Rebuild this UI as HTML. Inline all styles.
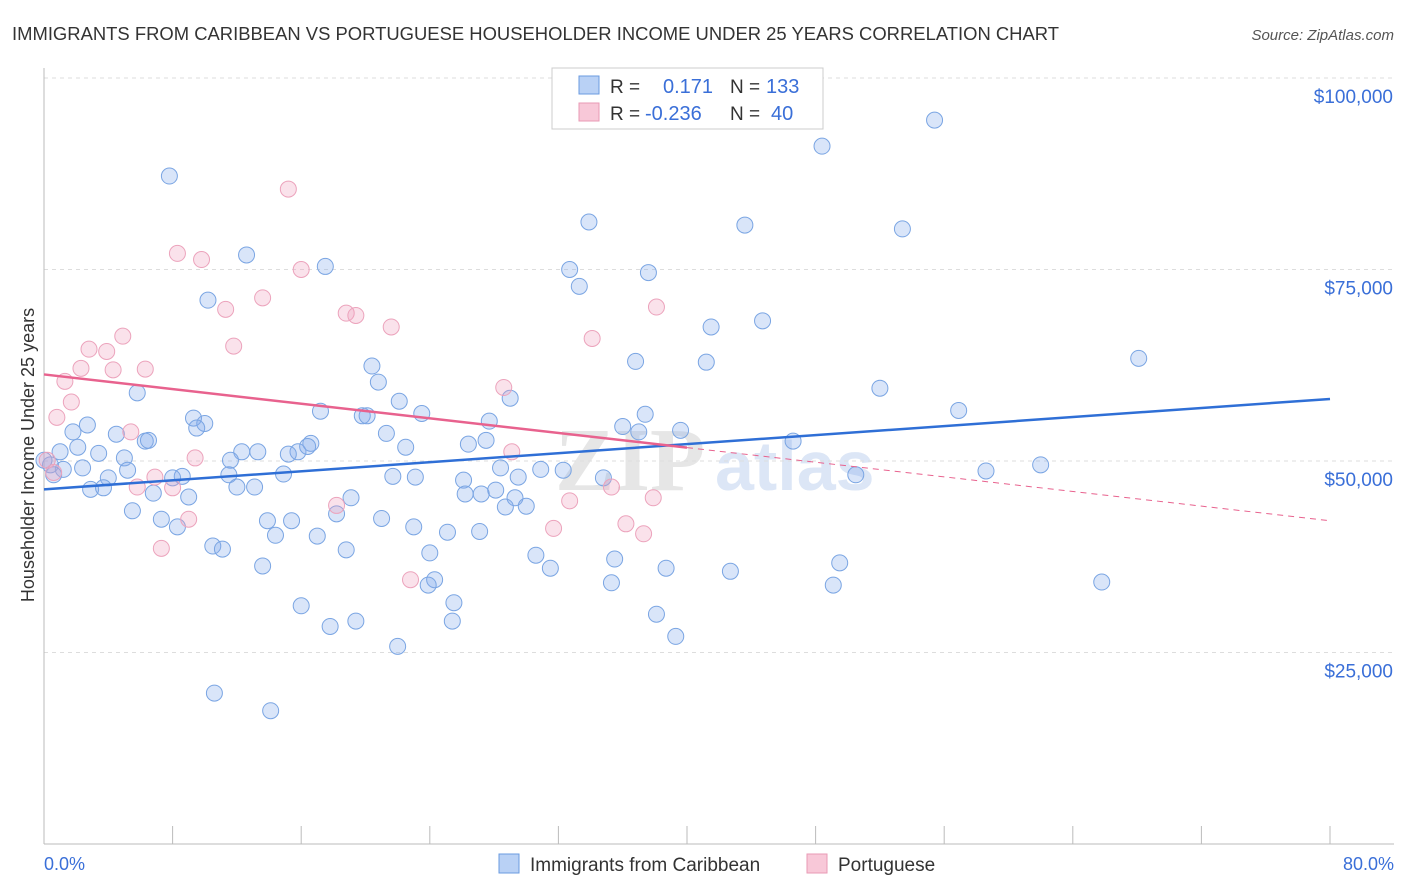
<!DOCTYPE html>
<html><head><meta charset="utf-8">
<style>
body{margin:0;background:#fff;font-family:"Liberation Sans",sans-serif;}
#wrap{position:relative;width:1406px;height:892px;overflow:hidden;}
</style></head>
<body>
<div id="wrap">
<svg id="svg" width="1406" height="892" xmlns="http://www.w3.org/2000/svg">
<text x="12" y="40" font-size="18" fill="#333" textLength="1047" lengthAdjust="spacingAndGlyphs">IMMIGRANTS FROM CARIBBEAN VS PORTUGUESE HOUSEHOLDER INCOME UNDER 25 YEARS CORRELATION CHART</text>
<text x="1394" y="40" font-size="15" fill="#555" text-anchor="end" font-style="italic">Source: ZipAtlas.com</text>
<text x="34" y="455" font-size="18" fill="#333" text-anchor="middle" transform="rotate(-90 34 455)">Householder Income Under 25 years</text>
<text x="44" y="870" font-size="18" fill="#3a6fd8">0.0%</text>
<text x="1394" y="870" font-size="18" fill="#3a6fd8" text-anchor="end">80.0%</text>
<g><text x="555" y="490" font-size="90" fill="#e6e6e6" font-family="Liberation Serif" font-weight="bold">ZIP</text><text x="715" y="490" font-size="70" fill="#dce6f6" font-weight="bold">atlas</text></g>
<g id="grid"></g><g id="pts"></g><g id="trend"></g>
<g>
<rect x="552" y="68" width="271" height="61" fill="#fff" stroke="#ccc"/>
<rect x="579" y="76" width="20" height="18" fill="#b9d1f5" stroke="#6a9be0"/>
<rect x="579" y="103" width="20" height="18" fill="#f8c8d8" stroke="#e99ab5"/>
<text x="610" y="93" font-size="19" fill="#333">R =</text><text x="663" y="93" font-size="20" fill="#3a6fd8">0.171</text>
<text x="730" y="93" font-size="19" fill="#333">N =</text><text x="766" y="93" font-size="20" fill="#3a6fd8">133</text>
<text x="610" y="120" font-size="19" fill="#333">R =</text><text x="645" y="120" font-size="20" fill="#3a6fd8">-0.236</text>
<text x="730" y="120" font-size="19" fill="#333">N =</text><text x="771" y="120" font-size="20" fill="#3a6fd8">40</text>
</g>
<g>
<rect x="499" y="854" width="20" height="19" fill="#b9d1f5" stroke="#6a9be0"/>
<text x="530" y="871" font-size="19" fill="#333">Immigrants from Caribbean</text>
<rect x="807" y="854" width="20" height="19" fill="#f8c8d8" stroke="#e99ab5"/>
<text x="838" y="871" font-size="19" fill="#333">Portuguese</text>
</g>
</svg>
</div>
<script>
const yTicks=[25000,50000,75000,100000];
const yTickLabels=["$25,000","$50,000","$75,000","$100,000"];
const xTicks=[0,8,16,24,32,40,48,56,64,72,80];
const blueX=[7.8,55.4,48.4,33.9,43.6,53.4,12.6,17.5,32.7,37.6,33.3,10.2,44.7,41.5,68.1,36.8,41.2,20.4,20.8,52.0,5.8,22.1,29.0,56.9,17.2,23.5,9.3,19.8,20.1,27.7,10.0,2.7,9.5,37.4,36.0,39.6,37.0,1.8,4.5,21.3,6.3,6.5,46.6,27.5,26.4,1.0,2.1,3.4,22.5,12.3,13.3,15.8,16.6,16.4,15.2,11.6,5.0,0.4,1.2,2.4,5.2,0.6,4.0,8.6,8.0,11.5,14.9,21.7,23.1,28.4,30.9,32.3,29.5,34.8,50.5,58.6,62.0,26.1,2.9,3.7,6.8,9.0,12.0,13.1,26.2,28.1,27.2,29.3,30.0,28.7,19.1,18.2,5.5,7.3,8.3,13.9,15.4,21.0,23.0,25.1,27.1,14.4,17.0,10.5,11.1,18.8,24.0,30.6,35.5,49.5,13.6,31.5,38.7,42.7,24.3,23.9,35.3,49.1,65.8,16.0,25.5,38.1,19.4,17.8,25.4,39.3,22.0,10.6,14.1,0.0];
const blueY=[87200,94500,91100,81200,80800,80300,76900,75400,75000,74600,72800,71000,68300,67500,63400,63000,62900,62400,60300,59500,58900,57800,58200,56600,56500,56200,55600,55900,55900,55200,54900,54700,54300,56100,54500,54000,53800,53800,53500,53600,52600,52700,52600,52700,52200,51200,51800,51000,51800,51200,51200,51200,52300,51900,50900,50100,50400,49500,48900,49100,48800,48200,47800,48000,47800,48200,48300,48000,47900,49100,48900,48800,47900,47800,48200,48700,49500,47500,46300,46500,45800,45300,46600,46600,45700,46200,45700,45200,44100,44000,45200,43100,43500,42400,41400,42200,42200,42500,41400,40700,40800,40300,40200,38900,38500,38400,38000,37700,37200,36700,36300,36000,36000,35600,34500,33800,34100,33800,34200,31100,31500,30000,29100,28400,29100,27100,25800,19700,17400,50100];
const pinkX=[15.2,8.3,9.8,16.0,13.6,11.3,18.8,19.4,21.6,38.1,4.9,34.1,11.8,2.8,3.9,2.3,4.3,6.3,1.3,28.6,1.7,0.8,5.4,29.1,0.2,0.6,9.4,6.9,8.0,5.8,18.2,35.3,32.7,37.9,9.0,31.7,36.2,37.3,7.3,22.8];
const pinkY=[85500,77100,76300,75000,71300,69800,69300,69000,67500,70100,66300,66000,65000,64600,64300,62100,61900,62000,60400,59600,57700,55700,53800,51200,50100,48500,50400,47900,46500,46600,44200,46600,44800,45200,42400,41200,41800,40500,38600,34500];
const blueTrend=[46300,58100];
const pinkTrend=[61300,42200];

const X=v=>44+v/80*1286;
const Y=v=>844-v/25000*191.5;
const NS="http://www.w3.org/2000/svg";
function mk(tag,attrs,parent){const e=document.createElementNS(NS,tag);for(const k in attrs)e.setAttribute(k,attrs[k]);parent.appendChild(e);return e;}
const grid=document.getElementById('grid');
yTicks.forEach((t,i)=>{
  const l=mk('line',{x1:44,x2:1394,y1:Y(t),y2:Y(t),stroke:'#ddd','stroke-dasharray':'4,4'},grid);
  
  
  const tx=mk('text',{x:1393,y:Y(t)+25,'font-size':19,fill:'#3a6fd8','text-anchor':'end'},grid);
  tx.textContent=yTickLabels[i];
  
  
});
const ax=mk('line',{x1:44,x2:44,y1:68,y2:844,stroke:'#bbb'},grid);


const bx=mk('line',{x1:44,x2:1394,y1:844,y2:844,stroke:'#bbb'},grid);


xTicks.forEach(t=>{
  const l=mk('line',{x1:X(t),x2:X(t),y1:826,y2:844,stroke:'#bbb'},grid);
  
  
});
const pts=document.getElementById('pts');
function dots(xs,ys,fill,stroke,name){
  xs.forEach((x,i)=>{
    const c=mk('circle',{cx:X(x),cy:Y(ys[i]),r:8,fill:fill,stroke:stroke,'stroke-width':1},pts);
    
    
  });
}
dots(blueX,blueY,'rgba(130,170,235,0.3)','#7aa5e3','caribbean-point');
dots(pinkX,pinkY,'rgba(240,160,190,0.3)','#eca3bc','portuguese-point');
const tr=document.getElementById('trend');
const b=mk('line',{x1:X(0),y1:Y(blueTrend[0]),x2:X(80),y2:Y(blueTrend[1]),stroke:'#2f6fd6','stroke-width':2.5},tr);


const pm=pinkTrend[0]+(pinkTrend[1]-pinkTrend[0])*0.5;
const p1=mk('line',{x1:X(0),y1:Y(pinkTrend[0]),x2:X(40),y2:Y(pm),stroke:'#e8628e','stroke-width':2.5},tr);


const p2=mk('line',{x1:X(40),y1:Y(pm),x2:X(80),y2:Y(pinkTrend[1]),stroke:'#e8628e','stroke-width':1,'stroke-dasharray':'6,5'},tr);


</script>
</body></html>
